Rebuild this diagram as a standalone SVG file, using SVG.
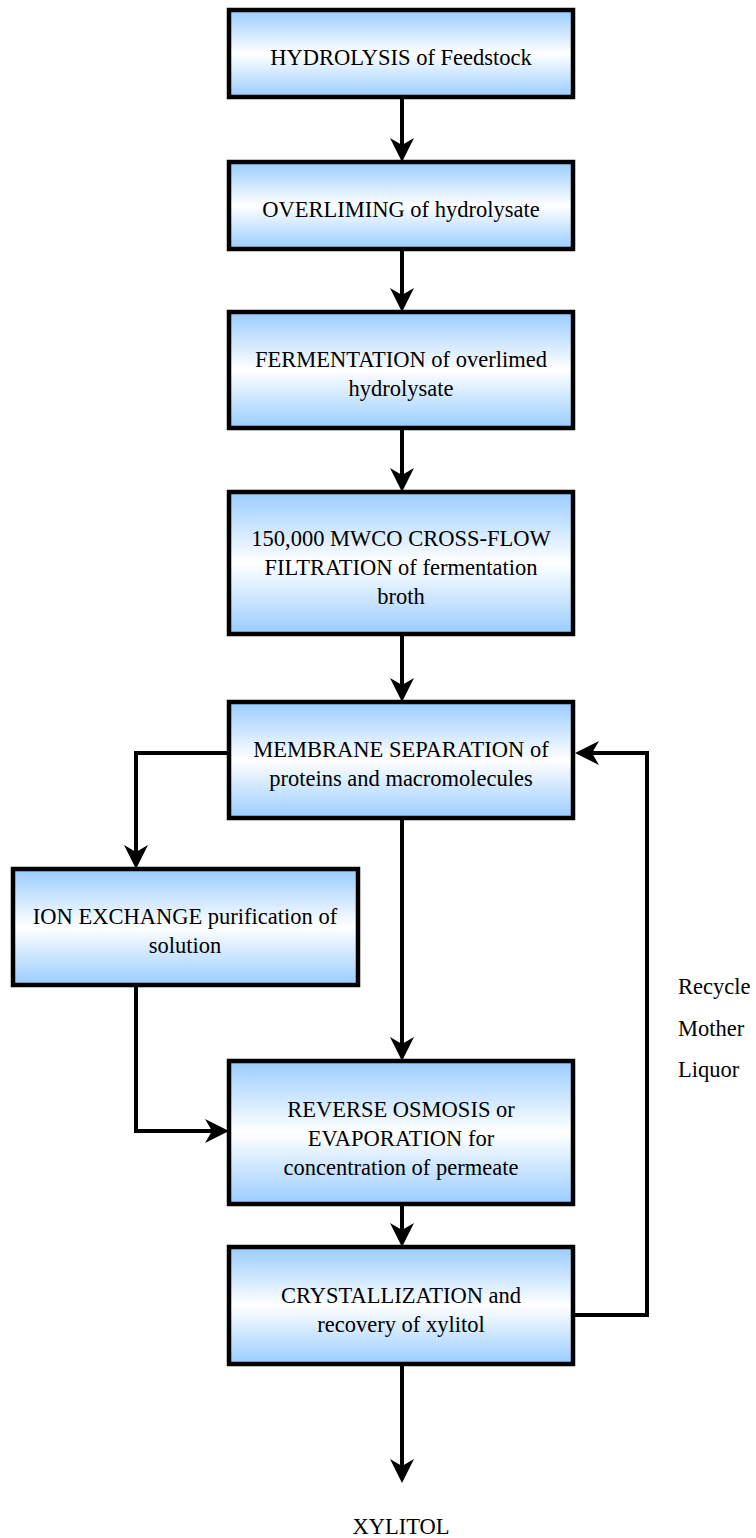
<svg xmlns="http://www.w3.org/2000/svg" width="756" height="1538" viewBox="0 0 756 1538">
<style>
.box{fill:url(#g);stroke:#000;stroke-width:4.5}
.t{font-family:'Liberation Serif','DejaVu Serif',Tinos,'Times New Roman',Times,serif;font-size:22.5px;fill:#000;text-anchor:middle}
.l{font-family:'Liberation Serif','DejaVu Serif',Tinos,'Times New Roman',Times,serif;font-size:22.5px;fill:#000}
.c{fill:none;stroke:#000;stroke-width:4;marker-end:url(#ah)}
</style>
<defs>
<linearGradient id="g" x1="0" y1="0" x2="0" y2="1">
<stop offset="0" stop-color="#99CCFF"/>
<stop offset="0.5" stop-color="#FFFFFF"/>
<stop offset="1" stop-color="#99CCFF"/>
</linearGradient>
<marker id="ah" markerUnits="userSpaceOnUse" markerWidth="30" markerHeight="30" viewBox="-26 -14 30 28" refX="-10" refY="0" orient="auto">
<path d="M0,0 L-24,-12 L-17,0 L-24,12 Z" fill="#000"/>
</marker>
</defs>
<g id="connectors">
<path class="c" d="M402,97 V152"/>
<path class="c" d="M402,249 V302"/>
<path class="c" d="M402,428 V482"/>
<path class="c" d="M402,634 V692"/>
<path class="c" d="M229,753 H136 V859"/>
<path class="c" d="M402,818 V1051"/>
<path class="c" d="M136,985 V1131 H219"/>
<path class="c" d="M402,1204 V1237"/>
<path class="c" d="M573,1315 H647 V753 H585"/>
<path class="c" d="M402,1364 V1473"/>
</g>
<g id="n1"><rect class="box" x="229" y="10" width="344" height="87"/><text class="t" x="401" y="65">HYDROLYSIS of Feedstock</text></g>
<g id="n2"><rect class="box" x="229" y="162" width="344" height="87"/><text class="t" x="401" y="217">OVERLIMING of hydrolysate</text></g>
<g id="n3"><rect class="box" x="229" y="312" width="344" height="116"/><text class="t" x="401" y="367">FERMENTATION of overlimed</text><text class="t" x="401" y="396">hydrolysate</text></g>
<g id="n4"><rect class="box" x="229" y="492" width="344" height="142"/><text class="t" x="401" y="546">150,000 MWCO CROSS-FLOW</text><text class="t" x="401" y="575">FILTRATION of fermentation</text><text class="t" x="401" y="604">broth</text></g>
<g id="n5"><rect class="box" x="229" y="702" width="344" height="116"/><text class="t" x="401" y="757">MEMBRANE SEPARATION of</text><text class="t" x="401" y="786">proteins and macromolecules</text></g>
<g id="n6"><rect class="box" x="13" y="869" width="345" height="116"/><text class="t" x="185" y="924">ION EXCHANGE purification of</text><text class="t" x="185" y="953">solution</text></g>
<g id="n7"><rect class="box" x="229" y="1061" width="344" height="143"/><text class="t" x="401" y="1117">REVERSE OSMOSIS or</text><text class="t" x="401" y="1146">EVAPORATION for</text><text class="t" x="401" y="1175">concentration of permeate</text></g>
<g id="n8"><rect class="box" x="229" y="1247" width="344" height="117"/><text class="t" x="401" y="1303">CRYSTALLIZATION and</text><text class="t" x="401" y="1332">recovery of xylitol</text></g>
<g id="recycle"><text class="l" x="678" y="994">Recycle</text><text class="l" x="678" y="1036">Mother</text><text class="l" x="678" y="1077">Liquor</text></g>
<g id="out"><text class="t" x="401" y="1534">XYLITOL</text></g>
</svg>
